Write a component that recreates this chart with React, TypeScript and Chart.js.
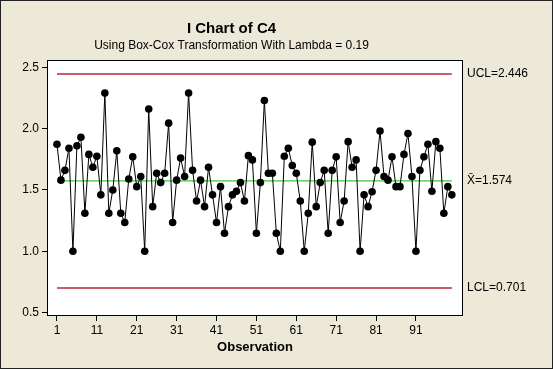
import React, { useEffect, useRef } from 'react';
import { Chart, registerables } from 'chart.js';

Chart.register(...registerables);

// Individual observations (Box-Cox transformed, lambda = 0.19)
const values: number[] = [
  1.873, 1.58, 1.66, 1.84, 1.0, 1.86, 1.93, 1.31, 1.79, 1.685,
  1.775, 1.46, 2.29, 1.31, 1.5, 1.82, 1.31, 1.235, 1.59, 1.77,
  1.527, 1.61, 1.0, 2.16, 1.364, 1.636, 1.56, 1.636, 2.045, 1.235,
  1.58, 1.76, 1.61, 2.29, 1.66, 1.41, 1.58, 1.364, 1.685, 1.46,
  1.235, 1.527, 1.147, 1.364, 1.46, 1.49, 1.56, 1.41, 1.78, 1.745,
  1.147, 1.56, 2.23, 1.636, 1.636, 1.147, 1.0, 1.775, 1.84, 1.7,
  1.636, 1.41, 1.0, 1.31, 1.89, 1.364, 1.56, 1.66, 1.147, 1.66,
  1.77, 1.235, 1.41, 1.894, 1.685, 1.745, 1.0, 1.46, 1.364, 1.486,
  1.66, 1.98, 1.61, 1.58, 1.77, 1.527, 1.527, 1.79, 1.96, 1.61,
  1.0, 1.66, 1.77, 1.873, 1.49, 1.894, 1.84, 1.31, 1.527, 1.46,
];

const xTickValues: number[] = [1, 11, 21, 31, 41, 51, 61, 71, 81, 91];
const yTickValues: number[] = [0.5, 1.0, 1.5, 2.0, 2.5];

const UCL = 2.446;
const CENTER = 1.574;
const LCL = 0.701;

const limitLabels: { value: number; text: string }[] = [
  { value: UCL, text: 'UCL=2.446' },
  { value: CENTER, text: 'X\u0304=1.574' },
  { value: LCL, text: 'LCL=0.701' },
];

const FONT = "'Liberation Sans', Arial, sans-serif";
const BG = '#ECE9D8';
const RED = '#B4283C';
const GREEN = '#3CC83C';

const framePlugin = {
  id: 'frame',
  beforeDraw(chart: any) {
    const { ctx, chartArea } = chart;
    ctx.save();
    ctx.fillStyle = BG;
    ctx.fillRect(0, 0, chart.width, chart.height);
    ctx.fillStyle = '#ffffff';
    ctx.fillRect(chartArea.left, chartArea.top, chartArea.right - chartArea.left, chartArea.bottom - chartArea.top);
    ctx.restore();
  },
  afterDraw(chart: any) {
    const { ctx, chartArea } = chart;
    const y = chart.scales.y;
    ctx.save();
    ctx.strokeStyle = '#000';
    ctx.lineWidth = 1;
    ctx.strokeRect(
      Math.round(chartArea.left) + 0.5,
      Math.round(chartArea.top) + 0.5,
      Math.round(chartArea.right - chartArea.left) - 1,
      Math.round(chartArea.bottom - chartArea.top) - 1
    );
    ctx.fillStyle = '#000';
    ctx.font = `12px ${FONT}`;
    ctx.textAlign = 'left';
    ctx.textBaseline = 'middle';
    limitLabels.forEach((l) => {
      ctx.fillText(l.text, chartArea.right + 4, y.getPixelForValue(l.value));
    });
    ctx.restore();
  },
};

export default function App() {
  const canvasRef = useRef<HTMLCanvasElement | null>(null);

  useEffect(() => {
    if (!canvasRef.current) return;
    const first = 1;
    const last = values.length;
    const chart = new Chart(canvasRef.current, {
      type: 'scatter',
      data: {
        datasets: [
          {
            label: 'C4',
            data: values.map((v, i) => ({ x: i + 1, y: v })),
            showLine: true,
            borderColor: '#000',
            borderWidth: 1,
            pointRadius: 3.8,
            pointBackgroundColor: '#000',
            pointBorderWidth: 0,
            order: 0,
          },
          {
            label: 'UCL',
            data: [{ x: first, y: UCL }, { x: last, y: UCL }],
            showLine: true,
            borderColor: RED,
            borderWidth: 1.5,
            pointRadius: 0,
            order: 1,
          },
          {
            label: 'Mean',
            data: [{ x: first, y: CENTER }, { x: last, y: CENTER }],
            showLine: true,
            borderColor: GREEN,
            borderWidth: 1.2,
            pointRadius: 0,
            order: 1,
          },
          {
            label: 'LCL',
            data: [{ x: first, y: LCL }, { x: last, y: LCL }],
            showLine: true,
            borderColor: RED,
            borderWidth: 1.5,
            pointRadius: 0,
            order: 1,
          },
        ],
      },
      options: {
        animation: false,
        responsive: false,
        devicePixelRatio: 1,
        layout: { padding: { left: 0, right: 90, top: 0, bottom: 0 } },
        plugins: {
          legend: { display: false },
          tooltip: { enabled: false },
          title: {
            display: true,
            text: 'I Chart of C4',
            color: '#000',
            font: { family: FONT, size: 15, weight: 'bold' },
            padding: { top: 19.5, bottom: 1 },
          },
          subtitle: {
            display: true,
            text: 'Using Box-Cox Transformation With Lambda = 0.19',
            color: '#000',
            font: { family: FONT, size: 12 },
            padding: { top: 0, bottom: 7.1 },
          },
        },
        scales: {
          x: {
            type: 'linear',
            min: -1.5,
            max: 102.8,
            afterBuildTicks: (scale: any) => {
              scale.ticks = xTickValues.map((v) => ({ value: v }));
            },
            afterFit: (scale: any) => {
              scale.height = 53;
            },
            grid: { display: true, drawOnChartArea: false, drawTicks: true, tickLength: 5, color: '#000' },
            border: { display: false },
            ticks: {
              color: '#000',
              font: { family: FONT, size: 12 },
              padding: 2,
              maxRotation: 0,
              autoSkip: false,
              callback: (v: any) => String(v),
            },
            title: {
              display: true,
              text: 'Observation',
              color: '#000',
              font: { family: FONT, size: 13, weight: 'bold' },
              padding: { top: 0, bottom: 14 },
            },
          },
          y: {
            type: 'linear',
            min: 0.472,
            max: 2.56,
            afterBuildTicks: (scale: any) => {
              scale.ticks = yTickValues.map((v) => ({ value: v }));
            },
            afterFit: (scale: any) => {
              scale.width = 47;
            },
            grid: { display: true, drawOnChartArea: false, drawTicks: true, tickLength: 5, color: '#000' },
            border: { display: false },
            ticks: {
              color: '#000',
              font: { family: FONT, size: 12 },
              padding: 3,
              callback: (v: any) => Number(v).toFixed(1),
            },
          },
        },
      },
      plugins: [framePlugin],
    } as any);
    return () => chart.destroy();
  }, []);

  return (
    <div style={{ position: 'fixed', left: 0, top: 0, width: 553, height: 369, background: BG }}>
      <canvas ref={canvasRef} width={553} height={369} style={{ display: 'block' }} />
      <div
        style={{
          position: 'absolute',
          left: 0,
          top: 0,
          width: 553,
          height: 369,
          boxSizing: 'border-box',
          border: '1px solid #222',
          pointerEvents: 'none',
        }}
      />
    </div>
  );
}
